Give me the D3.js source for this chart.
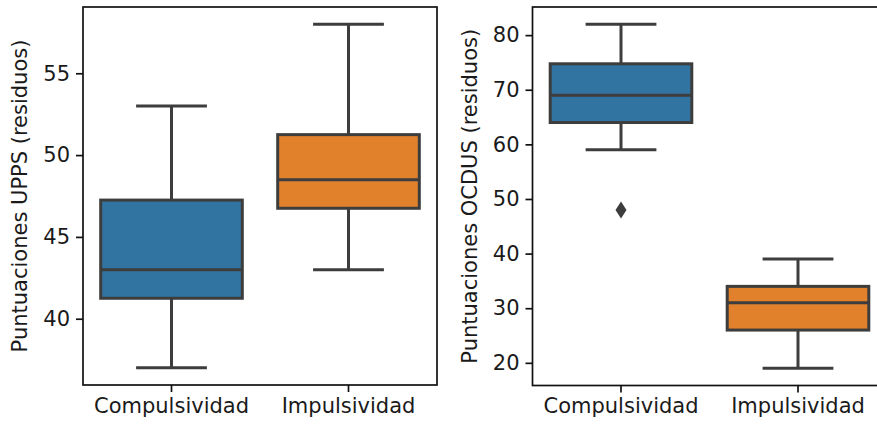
<!DOCTYPE html>
<html>
<head>
<meta charset="utf-8">
<script src="https://cdn.jsdelivr.net/npm/d3@7"></script>
<style>
  html, body { margin: 0; padding: 0; background: #fff; }
  svg { display: block; }
  text { font-family: "DejaVu Sans", sans-serif; fill: #1a1a1a; }
</style>
</head>
<body>
<svg id="chart" width="877" height="426"></svg>
<script>
// Groups shown on both panels
const categories = ["Compulsividad", "Impulsividad"];
const boxColors = ["#3274a1", "#e1812c"];

// UPPS residual scores: five-number summary per group
const uppsLow    = [37, 43];
const uppsQ1     = [41.25, 46.75];
const uppsMedian = [43, 48.5];
const uppsQ3     = [47.25, 51.25];
const uppsHigh   = [53, 58];
const uppsOutliers = [[], []];
const uppsTicks  = [40, 45, 50, 55];

// OCDUS residual scores: five-number summary per group
const ocdusLow    = [59, 19];
const ocdusQ1     = [64, 26];
const ocdusMedian = [69, 31];
const ocdusQ3     = [74.75, 34];
const ocdusHigh   = [82, 39];
const ocdusOutliers = [[48], []];
const ocdusTicks  = [20, 30, 40, 50, 60, 70, 80];

const svg = d3.select("#chart");
const LINE = "#3d3d3d";
const FONT = 21;

function panel(opts) {
  const { x0, x1, y0, y1, low, q1, med, q3, high, outliers, ticks, label, labelX } = opts;
  const g = svg.append("g");

  const rows = categories.map((c, i) => ({
    c, i, low: low[i], q1: q1[i], med: med[i], q3: q3[i], high: high[i], out: outliers[i]
  }));
  const dmin = d3.min(rows, r => Math.min(r.low, ...r.out));
  const dmax = d3.max(rows, r => Math.max(r.high, ...r.out));
  const pad = (dmax - dmin) * 0.05;

  const y = d3.scaleLinear().domain([dmin - pad, dmax + pad]).range([y1, y0]);
  const x = d3.scaleBand().domain(categories).range([x0, x1]).paddingInner(0.2).paddingOuter(0.1);
  const bw = x.bandwidth();
  const cx = c => x(c) + bw / 2;

  const items = g.selectAll("g.box").data(rows).join("g").attr("class", "box");

  // whiskers
  items.append("line")
    .attr("x1", d => cx(d.c)).attr("x2", d => cx(d.c))
    .attr("y1", d => y(d.q3)).attr("y2", d => y(d.high))
    .attr("stroke", LINE).attr("stroke-width", 3);
  items.append("line")
    .attr("x1", d => cx(d.c)).attr("x2", d => cx(d.c))
    .attr("y1", d => y(d.q1)).attr("y2", d => y(d.low))
    .attr("stroke", LINE).attr("stroke-width", 3);
  // caps
  ["low", "high"].forEach(k => {
    items.append("line")
      .attr("x1", d => cx(d.c) - bw / 4).attr("x2", d => cx(d.c) + bw / 4)
      .attr("y1", d => y(d[k])).attr("y2", d => y(d[k]))
      .attr("stroke", LINE).attr("stroke-width", 3);
  });
  // boxes
  items.append("rect")
    .attr("x", d => x(d.c)).attr("width", bw)
    .attr("y", d => y(d.q3)).attr("height", d => y(d.q1) - y(d.q3))
    .attr("fill", d => boxColors[d.i])
    .attr("stroke", LINE).attr("stroke-width", 3);
  // medians
  items.append("line")
    .attr("x1", d => x(d.c)).attr("x2", d => x(d.c) + bw)
    .attr("y1", d => y(d.med)).attr("y2", d => y(d.med))
    .attr("stroke", LINE).attr("stroke-width", 3);
  // outliers (thin diamonds)
  items.each(function (d) {
    d3.select(this).selectAll("path.out").data(d.out).join("path")
      .attr("class", "out")
      .attr("transform", v => `translate(${cx(d.c)},${y(v)})`)
      .attr("d", "M0,-8.5L5.5,0L0,8.5L-5.5,0Z")
      .attr("fill", LINE);
  });

  // frame
  g.append("rect")
    .attr("x", x0).attr("y", y0).attr("width", x1 - x0).attr("height", y1 - y0)
    .attr("fill", "none").attr("stroke", "#111").attr("stroke-width", 1.7);

  // y axis
  const ya = g.append("g").attr("transform", `translate(${x0},0)`)
    .call(d3.axisLeft(y).tickValues(ticks).tickSize(7).tickPadding(6).tickFormat(d3.format("d")));
  ya.select(".domain").remove();
  ya.selectAll(".tick line").attr("stroke", "#111").attr("stroke-width", 1.7);
  ya.selectAll(".tick text").attr("font-size", FONT).attr("font-family", "DejaVu Sans").attr("fill", "#1a1a1a");

  // x axis
  const xa = g.append("g").attr("transform", `translate(0,${y1})`)
    .call(d3.axisBottom(x).tickSize(7).tickPadding(6));
  xa.select(".domain").remove();
  xa.selectAll(".tick line").attr("stroke", "#111").attr("stroke-width", 1.7);
  xa.selectAll(".tick text").attr("font-size", FONT).attr("font-family", "DejaVu Sans").attr("fill", "#1a1a1a");

  // y label
  g.append("text")
    .attr("transform", `translate(${labelX},${(y0 + y1) / 2}) rotate(-90)`)
    .attr("text-anchor", "middle").attr("dominant-baseline", "central")
    .attr("font-size", FONT)
    .text(label);
}

panel({
  x0: 83, x1: 437, y0: 7, y1: 385,
  low: uppsLow, q1: uppsQ1, med: uppsMedian, q3: uppsQ3, high: uppsHigh,
  outliers: uppsOutliers, ticks: uppsTicks,
  label: "Puntuaciones UPPS (residuos)", labelX: 20
});

panel({
  x0: 532.5, x1: 886.5, y0: 7, y1: 385.5,
  low: ocdusLow, q1: ocdusQ1, med: ocdusMedian, q3: ocdusQ3, high: ocdusHigh,
  outliers: ocdusOutliers, ticks: ocdusTicks,
  label: "Puntuaciones OCDUS (residuos)", labelX: 470
});
</script>
</body>
</html>
